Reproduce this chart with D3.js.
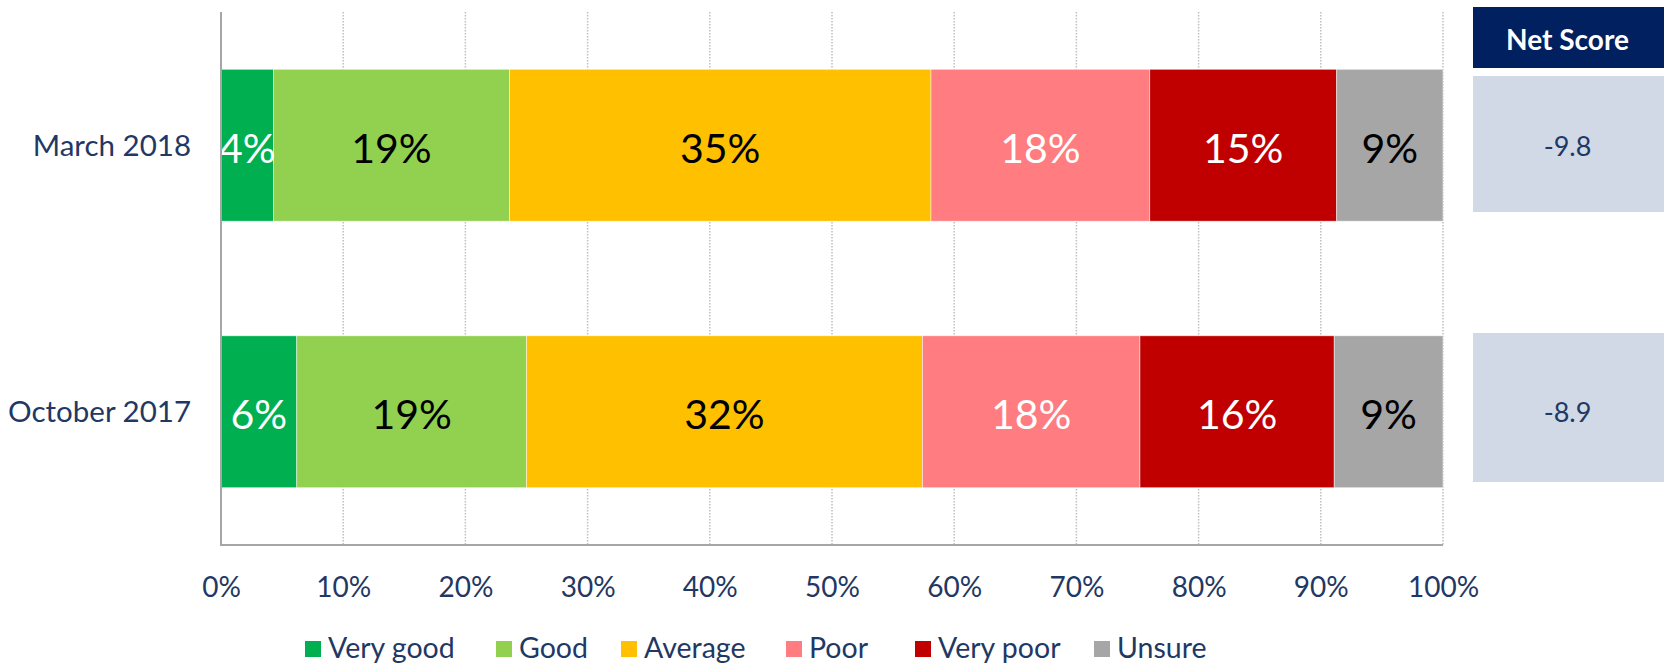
<!DOCTYPE html>
<html>
<head>
<meta charset="utf-8">
<script src="https://cdn.jsdelivr.net/npm/d3@7"></script>
<style>
  html, body { margin: 0; padding: 0; background: #fff; }
  svg { display: block; font-family: Lato, "Open Sans", sans-serif; }
</style>
</head>
<body>
<svg id="chart" width="1664" height="665"></svg>
<script>
// ---- data ----
const categories = ["March 2018", "October 2017"];
const seriesNames = ["Very good", "Good", "Average", "Poor", "Very poor", "Unsure"];
const veryGood = [4.3, 6.2];
const good     = [19.3, 18.8];
const average  = [34.5, 32.4];
const poor     = [17.9, 17.8];
const veryPoor = [15.3, 15.9];
const unsure   = [8.7, 8.9];
const netScores = [-9.8, -8.9];
const netScoreTitle = "Net Score";
const xTicks = [0, 10, 20, 30, 40, 50, 60, 70, 80, 90, 100];

const seriesValues = [veryGood, good, average, poor, veryPoor, unsure];
const colors = ["#00B050", "#92D050", "#FFC000", "#FF7C80", "#C00000", "#A6A6A6"];
const labelColors = ["#fff", "#000", "#000", "#fff", "#fff", "#000"];
const navy = "#1F3864";

const svg = d3.select("#chart");

const x = d3.scaleLinear().domain([0, 100]).range([221, 1443]);
const y = d3.scaleBand().domain(categories).range([12, 545]).paddingInner(0.43).paddingOuter(0.215);

// gridlines
svg.append("g").selectAll("line").data(xTicks.filter(t => t > 0)).join("line")
  .attr("x1", d => x(d)).attr("x2", d => x(d))
  .attr("y1", 12).attr("y2", 545)
  .attr("stroke", "#BFBFBF").attr("stroke-width", 1.5)
  .attr("stroke-dasharray", "1.5,1.5");

// stacked data
const rows = categories.map((c, i) => {
  const o = { category: c };
  seriesNames.forEach((s, j) => o[s] = seriesValues[j][i]);
  return o;
});
const stack = d3.stack().keys(seriesNames)(rows);

const layers = svg.append("g").selectAll("g").data(stack).join("g")
  .attr("fill", (d, i) => colors[i]);

layers.selectAll("rect").data(d => d).join("rect")
  .attr("x", d => x(d[0]))
  .attr("width", d => x(d[1]) - x(d[0]))
  .attr("y", d => y(d.data.category))
  .attr("height", y.bandwidth())
  .attr("stroke", "#ffffff").attr("stroke-width", 0.8).attr("stroke-opacity", 0.6);

// bar labels
stack.forEach((layer, i) => {
  svg.append("g").selectAll("text").data(layer).join("text")
    .attr("x", d => (x(d[0]) + x(d[1])) / 2)
    .attr("y", d => y(d.data.category) + y.bandwidth() / 2 + 2)
    .attr("text-anchor", "middle")
    .attr("dominant-baseline", "central")
    .attr("font-size", 41)
    .attr("fill", labelColors[i])
    .text(d => Math.round(d[1] - d[0]) + "%");
});

// axes lines
svg.append("line").attr("x1", x(0)).attr("x2", x(0)).attr("y1", 12).attr("y2", 546)
  .attr("stroke", "#A6A6A6").attr("stroke-width", 2);
svg.append("line").attr("x1", x(0) - 1).attr("x2", x(100)).attr("y1", 545).attr("y2", 545)
  .attr("stroke", "#A6A6A6").attr("stroke-width", 2);

// x tick labels via axis
const xAxis = d3.axisBottom(x).tickValues(xTicks).tickFormat(d => d + "%").tickSize(0).tickPadding(0);
const gx = svg.append("g").attr("transform", "translate(0,587)").call(xAxis);
gx.select(".domain").remove();
gx.selectAll("text")
  .attr("font-family", "Lato, 'Open Sans', sans-serif")
  .attr("font-size", 28).attr("fill", navy)
  .attr("dy", "0.35em").attr("y", 0);

// y category labels via axis
const yAxis = d3.axisLeft(y).tickSize(0).tickPadding(0);
const gy = svg.append("g").attr("transform", "translate(191,0)").call(yAxis);
gy.select(".domain").remove();
gy.selectAll("text")
  .attr("font-family", "Lato, 'Open Sans', sans-serif")
  .attr("font-size", 29.5).attr("fill", navy)
  .attr("dy", "0.35em");

// Net score panel
const boxX = 1473, boxW = 191;
svg.append("rect").attr("x", boxX).attr("y", 7).attr("width", boxW).attr("height", 61).attr("fill", "#002060");
svg.append("text").attr("x", boxX + boxW / 2 - 1).attr("y", 39)
  .attr("text-anchor", "middle").attr("dominant-baseline", "central")
  .attr("font-size", 28).attr("font-weight", "bold").attr("fill", "#fff")
  .text(netScoreTitle);

const boxes = [{ y0: 76, y1: 212 }, { y0: 333, y1: 482 }];
svg.append("g").selectAll("rect").data(netScores).join("rect")
  .attr("x", boxX)
  .attr("y", (d, i) => boxes[i].y0)
  .attr("width", boxW)
  .attr("height", (d, i) => boxes[i].y1 - boxes[i].y0)
  .attr("fill", "#D1D9E7");
svg.append("g").selectAll("text").data(netScores).join("text")
  .attr("x", boxX + boxW / 2 - 1)
  .attr("y", (d, i) => y(categories[i]) + y.bandwidth() / 2)
  .attr("text-anchor", "middle").attr("dominant-baseline", "central")
  .attr("font-size", 27).attr("fill", navy)
  .text(d => d3.format(".1f")(d).replace("−", "-"));

// legend (swatch positions matched to reference layout)
const legendX = [305, 496, 621, 786, 915, 1094];
const legend = svg.append("g");
seriesNames.forEach((s, i) => {
  legend.append("rect").attr("x", legendX[i]).attr("y", 641).attr("width", 16).attr("height", 16).attr("fill", colors[i]);
  legend.append("text").attr("x", legendX[i] + 23).attr("y", 647)
    .attr("dominant-baseline", "central")
    .attr("font-size", 28.5).attr("fill", navy).text(s);
});
</script>
</body>
</html>
